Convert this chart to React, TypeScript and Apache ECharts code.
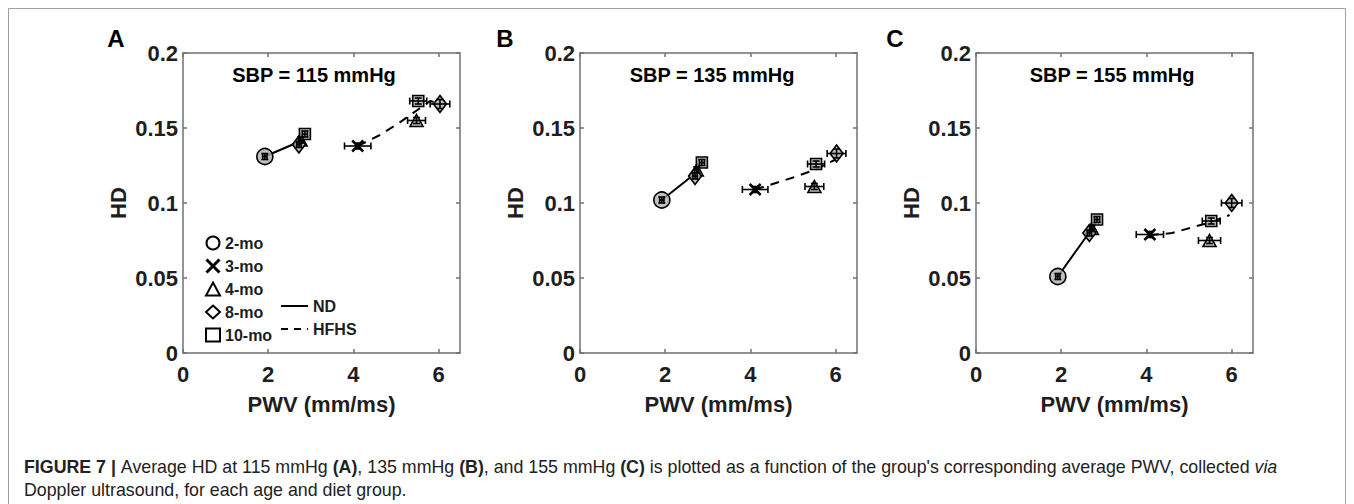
import React, { useEffect, useRef } from 'react';
import * as echarts from 'echarts';

// ---------- data ----------
const xTicks = [0, 2, 4, 6];
const panelLetters = ['A', 'B', 'C'];
const sbpTitles = ['SBP = 115 mmHg', 'SBP = 135 mmHg', 'SBP = 155 mmHg'];
const ages = ['2-mo', '3-mo', '4-mo', '8-mo', '10-mo'];
const ndAges = ['2-mo', '4-mo', '8-mo', '10-mo'];
const hfAges = ['3-mo', '4-mo', '8-mo', '10-mo'];

// ND group (per panel, in ndAges order)
const ndPwv = [
  [1.92, 2.76, 2.72, 2.86],
  [1.92, 2.74, 2.70, 2.86],
  [1.92, 2.72, 2.66, 2.84],
];
const ndHd = [
  [0.131, 0.142, 0.139, 0.146],
  [0.102, 0.122, 0.118, 0.127],
  [0.051, 0.083, 0.080, 0.089],
];
const ndPwvErr = [
  [0.05, 0.05, 0.05, 0.06],
  [0.05, 0.05, 0.05, 0.06],
  [0.05, 0.05, 0.05, 0.06],
];
const ndHdErr = [
  [0.002, 0.002, 0.002, 0.002],
  [0.002, 0.002, 0.002, 0.002],
  [0.002, 0.002, 0.002, 0.002],
];

// HFHS group (per panel, in hfAges order)
const hfPwv = [
  [4.10, 5.48, 6.03, 5.52],
  [4.11, 5.50, 6.02, 5.54],
  [4.08, 5.48, 6.00, 5.52],
];
const hfHd = [
  [0.138, 0.155, 0.166, 0.168],
  [0.109, 0.111, 0.133, 0.126],
  [0.079, 0.075, 0.100, 0.088],
];
const hfPwvErr = [
  [0.31, 0.21, 0.23, 0.20],
  [0.30, 0.22, 0.22, 0.20],
  [0.32, 0.26, 0.24, 0.21],
];
const hfHdErr = [
  [0.002, 0.002, 0.003, 0.002],
  [0.002, 0.002, 0.003, 0.002],
  [0.002, 0.002, 0.003, 0.002],
];

// fitted trend lines
const ndLinePwv = [
  [1.92, 2.74, 2.86],
  [1.92, 2.72, 2.86],
  [1.92, 2.70, 2.84],
];
const ndLineHd = [
  [0.131, 0.141, 0.146],
  [0.102, 0.120, 0.127],
  [0.051, 0.082, 0.089],
];
const hfLinePwv = [
  [4.10, 4.60, 5.05, 5.50, 5.80, 6.03],
  [4.11, 5.00, 5.50, 6.00],
  [4.08, 4.60, 5.10, 5.50, 5.95],
];
const hfLineHd = [
  [0.138, 0.145, 0.153, 0.162, 0.168, 0.166],
  [0.109, 0.117, 0.122, 0.129],
  [0.0785, 0.080, 0.084, 0.087, 0.092],
];

// ---------- styling ----------
const FONT = "'Liberation Sans', Arial, sans-serif";
const TEXT = '#1e1e1e';
const AXIS = '#707070';
const GRID_LEFT = [183, 580, 976];
const GRID_TOP = 53;
const GRID_W = 277;
const GRID_H = 300;
const LETTER_X = [116, 505, 895];
const TITLE_X = [314, 712, 1112];
const HD_X = [118, 515, 911];
const CAP_FONT = 17.8;

const X_PATH = 'path://M0,0L10,10M10,0L0,10';
const symbolOf: Record<string, any> = {
  '2-mo': { symbol: 'circle', size: 16 },
  '3-mo': { symbol: X_PATH, size: 11 },
  '4-mo': { symbol: 'triangle', size: [13, 12] },
  '8-mo': { symbol: 'diamond', size: [13, 17] },
  '10-mo': { symbol: 'rect', size: [11, 11] },
};

function buildOption() {
  const grid: any[] = [];
  const xAxis: any[] = [];
  const yAxis: any[] = [];
  const series: any[] = [];

  for (let p = 0; p < 3; p++) {
    grid.push({ left: GRID_LEFT[p], top: GRID_TOP, width: GRID_W, height: GRID_H });
    const lineStyle = { color: AXIS, width: 1.5 };
    xAxis.push({
      type: 'value', gridIndex: p, position: 'bottom', min: 0, max: 6.5, interval: 2,
      axisLine: { show: true, onZero: false, lineStyle },
      axisTick: { show: true, inside: true, length: 4, customValues: xTicks, lineStyle },
      axisLabel: { customValues: xTicks, fontSize: 22, fontWeight: 'bold', fontFamily: FONT, color: TEXT, margin: 10 },
      splitLine: { show: false },
      name: 'PWV (mm/ms)', nameLocation: 'middle', nameGap: 40,
      nameTextStyle: { fontSize: 22, fontWeight: 'bold', fontFamily: FONT, color: TEXT },
    });
    xAxis.push({
      type: 'value', gridIndex: p, position: 'top', min: 0, max: 6.5, interval: 2,
      axisLine: { show: true, onZero: false, lineStyle },
      axisTick: { show: true, inside: true, length: 4, customValues: xTicks, lineStyle },
      axisLabel: { show: false },
      splitLine: { show: false },
    });
    yAxis.push({
      type: 'value', gridIndex: p, position: 'left', min: 0, max: 0.2, interval: 0.05,
      axisLine: { show: true, onZero: false, lineStyle },
      axisTick: { show: true, inside: true, length: 4, lineStyle },
      axisLabel: { fontSize: 22, fontWeight: 'bold', fontFamily: FONT, color: TEXT, margin: 5 },
      splitLine: { show: false },
    });
    yAxis.push({
      type: 'value', gridIndex: p, position: 'right', min: 0, max: 0.2, interval: 0.05,
      axisLine: { show: true, onZero: false, lineStyle },
      axisTick: { show: true, inside: true, length: 4, lineStyle },
      axisLabel: { show: false },
      splitLine: { show: false },
    });

    const xi = 2 * p;
    const yi = 2 * p;

    series.push({
      type: 'line', name: 'ND', xAxisIndex: xi, yAxisIndex: yi, symbol: 'none', z: 3,
      color: '#000', lineStyle: { color: '#000', width: 2, type: 'solid' },
      data: ndLinePwv[p].map((x, i) => [x, ndLineHd[p][i]]),
    });
    series.push({
      type: 'line', name: 'HFHS', xAxisIndex: xi, yAxisIndex: yi, symbol: 'none', z: 3,
      color: '#000', lineStyle: { color: '#000', width: 2, type: [9, 7] },
      data: hfLinePwv[p].map((x, i) => [x, hfLineHd[p][i]]),
    });

    const errData: number[][] = [];
    ages.forEach((a) => {
      const pts: number[][] = [];
      const ni = ndAges.indexOf(a);
      if (ni >= 0) {
        pts.push([ndPwv[p][ni], ndHd[p][ni]]);
        errData.push([ndPwv[p][ni], ndHd[p][ni], ndPwvErr[p][ni], ndHdErr[p][ni]]);
      }
      const hi = hfAges.indexOf(a);
      if (hi >= 0) {
        pts.push([hfPwv[p][hi], hfHd[p][hi]]);
        errData.push([hfPwv[p][hi], hfHd[p][hi], hfPwvErr[p][hi], hfHdErr[p][hi]]);
      }
      const s = symbolOf[a];
      series.push({
        type: 'scatter', name: a, xAxisIndex: xi, yAxisIndex: yi, z: 4,
        symbol: s.symbol, symbolSize: s.size,
        itemStyle: {
          color: a === '3-mo' ? '#000' : 'rgba(175,175,175,0.8)',
          borderColor: '#000', borderWidth: a === '3-mo' ? 2.5 : 1.6, opacity: 1,
        },
        data: pts,
      });
    });

    series.push({
      type: 'custom', name: 'err' + p, xAxisIndex: xi, yAxisIndex: yi, z: 5,
      encode: { x: 0, y: 1 },
      data: errData,
      renderItem: (params: any, api: any) => {
        const x = api.value(0), y = api.value(1), ex = api.value(2), ey = api.value(3);
        const l = api.coord([x - ex, y]);
        const r = api.coord([x + ex, y]);
        const t = api.coord([x, y + ey]);
        const b = api.coord([x, y - ey]);
        const st = { stroke: '#000', lineWidth: 1.6 };
        const cap = 3.5;
        return {
          type: 'group',
          children: [
            { type: 'line', shape: { x1: l[0], y1: l[1], x2: r[0], y2: r[1] }, style: st },
            { type: 'line', shape: { x1: l[0], y1: l[1] - cap, x2: l[0], y2: l[1] + cap }, style: st },
            { type: 'line', shape: { x1: r[0], y1: r[1] - cap, x2: r[0], y2: r[1] + cap }, style: st },
            { type: 'line', shape: { x1: t[0], y1: t[1], x2: b[0], y2: b[1] }, style: st },
            { type: 'line', shape: { x1: t[0] - cap, y1: t[1], x2: t[0] + cap, y2: t[1] }, style: st },
            { type: 'line', shape: { x1: b[0] - cap, y1: b[1], x2: b[0] + cap, y2: b[1] }, style: st },
          ],
        };
      },
    });
  }

  const graphic: any[] = [
    {
      type: 'rect', shape: { x: 8.5, y: 8.5, width: 1337, height: 600 },
      style: { fill: 'none', stroke: '#a0a0a0', lineWidth: 1 }, silent: true, z: -1,
    },
  ];
  for (let p = 0; p < 3; p++) {
    graphic.push({
      type: 'text', x: LETTER_X[p], y: 38,
      style: { text: panelLetters[p], font: `bold 24px ${FONT}`, fill: '#000', textAlign: 'center', textVerticalAlign: 'middle' },
    });
    graphic.push({
      type: 'text', x: TITLE_X[p], y: 75,
      style: { text: sbpTitles[p], font: `bold 20px ${FONT}`, fill: '#000', textAlign: 'center', textVerticalAlign: 'middle' },
    });
    graphic.push({
      type: 'text', x: HD_X[p], y: 203, rotation: Math.PI / 2,
      style: { text: 'HD', font: `bold 22px ${FONT}`, fill: TEXT, textAlign: 'center', textVerticalAlign: 'middle' },
    });
  }
  graphic.push({
    type: 'text', x: 24, y: 467,
    style: {
      text: "{b|FIGURE 7} {s|| }Average HD at 115 mmHg {b|(A)}, 135 mmHg {b|(B)}, and 155 mmHg {b|(C)} is plotted as a function of the group's corresponding average PWV, collected {i|via}",
      font: `${CAP_FONT}px ${FONT}`, fill: '#222', textVerticalAlign: 'middle',
      rich: {
        b: { fontWeight: 'bold', fontSize: CAP_FONT, fontFamily: FONT, fill: '#222' },
        s: { fontWeight: 'bold', fontSize: CAP_FONT, fontFamily: FONT, fill: '#222' },
        i: { fontStyle: 'italic', fontSize: CAP_FONT, fontFamily: FONT, fill: '#222' },
      },
    },
  });
  graphic.push({
    type: 'text', x: 24, y: 490,
    style: { text: 'Doppler ultrasound, for each age and diet group.', font: `${CAP_FONT}px ${FONT}`, fill: '#222', textVerticalAlign: 'middle' },
  });

  const legendText = { fontSize: 16, fontWeight: 'bold', fontFamily: FONT, color: TEXT, lineHeight: 14 };
  const hiddenSymbol = { color: 'rgba(0,0,0,0)', borderWidth: 0, opacity: 0 };
  const legend = [
    {
      orient: 'vertical', left: 205, top: 235, itemWidth: 14, itemHeight: 13, itemGap: 7, itemTextGap: 6,
      selectedMode: false, textStyle: legendText, padding: 0,
      data: ages.map((a) => ({
        name: a,
        icon: symbolOf[a].symbol,
        itemStyle: { color: a === '3-mo' ? '#000' : '#fff', borderColor: '#000', borderWidth: a === '3-mo' ? 3 : 2 },
      })),
    },
    {
      orient: 'vertical', left: 280, top: 298, itemWidth: 27, itemHeight: 13, itemGap: 7, itemTextGap: 3,
      selectedMode: false, textStyle: legendText, padding: 0,
      data: [
        { name: 'ND', itemStyle: hiddenSymbol, lineStyle: { color: '#000', width: 2, type: 'solid' } },
        { name: 'HFHS', itemStyle: hiddenSymbol, lineStyle: { color: '#000', width: 2, type: [7, 6] } },
      ],
    },
  ];

  return { animation: false, backgroundColor: '#fff', grid, xAxis, yAxis, series, graphic, legend };
}

export default function App() {
  const ref = useRef<HTMLDivElement>(null);
  useEffect(() => {
    const chart = echarts.init(ref.current!, null, { renderer: 'svg' });
    chart.setOption(buildOption() as any);
    return () => chart.dispose();
  }, []);
  return (
    <div
      ref={ref}
      style={{ position: 'absolute', left: 0, top: 0, width: 1354, height: 504, background: '#fff' }}
    />
  );
}
